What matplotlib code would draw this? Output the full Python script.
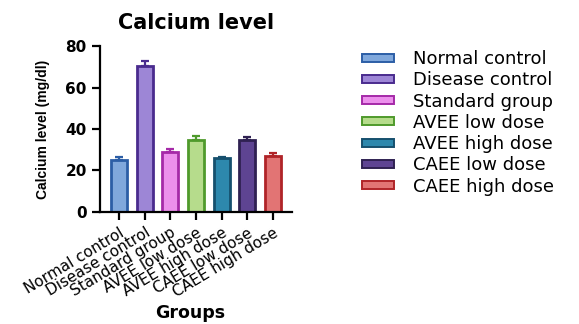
import matplotlib

matplotlib.use("Agg")

import matplotlib.pyplot as plt
from matplotlib.patches import Patch

# group means and upper SEM (mg/dl)
groups = ["Normal control", "Disease control", "Standard group", "AVEE low dose",
          "AVEE high dose", "CAEE low dose", "CAEE high dose"]
calcium = [25.0, 70.5, 29.0, 34.8, 25.8, 34.5, 27.0]
sem = [1.6, 2.5, 1.5, 1.6, 0.5, 1.8, 1.5]

fill_colors = ["#80a8dc", "#9d86d6", "#ec90ec", "#b6dc8c", "#2d88ad", "#5e4492", "#e27474"]
edge_colors = ["#2c5ea6", "#4a2b8e", "#a52aa8", "#4f9a2c", "#16506e", "#2f2152", "#b02428"]

plt.rcParams["font.family"] = ["DejaVu Sans"]

fig = plt.figure(figsize=(5.79, 3.24), dpi=100)
ax = fig.add_axes([0.1727, 0.3457, 0.3316, 0.5123])

x = list(range(len(groups)))
ax.bar(x, calcium, width=0.62, color=fill_colors, edgecolor=edge_colors,
       linewidth=2.0, zorder=2)
for xi, m, e, c in zip(x, calcium, sem, edge_colors):
    ax.errorbar(xi, m, yerr=[[0], [e]], fmt="none", ecolor=c,
                elinewidth=1.6, capsize=3, capthick=1.6, zorder=3)

ax.set_xlim(-0.75, 6.75)
ax.set_ylim(0, 80)
ax.set_yticks([0, 20, 40, 60, 80])
ax.spines["top"].set_visible(False)
ax.spines["right"].set_visible(False)
ax.spines["left"].set_linewidth(1.6)
ax.spines["bottom"].set_linewidth(1.6)
ax.tick_params(axis="both", width=1.6, length=6)
for lbl in ax.get_yticklabels():
    lbl.set_fontweight("bold")
    lbl.set_fontsize(11)

ax.set_xticks(x)
ax.set_xticklabels(groups, rotation=31, ha="right", rotation_mode="anchor",
                   fontsize=11)

ax.set_title("Calcium level", fontsize=15, fontweight="bold", pad=12)
ax.set_ylabel("Calcium level (mg/dl)", fontsize=10, fontweight="bold",
              family=["Liberation Sans Narrow", "Liberation Sans"], labelpad=11)
fig.text(0.328, 0.034, "Groups", fontsize=12.5, fontweight="bold",
         ha="center", va="center")

handles = [Patch(facecolor=f, edgecolor=e, linewidth=1.4)
           for f, e in zip(fill_colors, edge_colors)]
fig.legend(handles, groups, loc="upper left", bbox_to_anchor=(0.625, 0.845),
           frameon=False, fontsize=13, handlelength=1.8, handleheight=0.3,
           handletextpad=1.05, labelspacing=0.18, borderpad=0, borderaxespad=0)

fig.savefig("out.png", dpi=100)
